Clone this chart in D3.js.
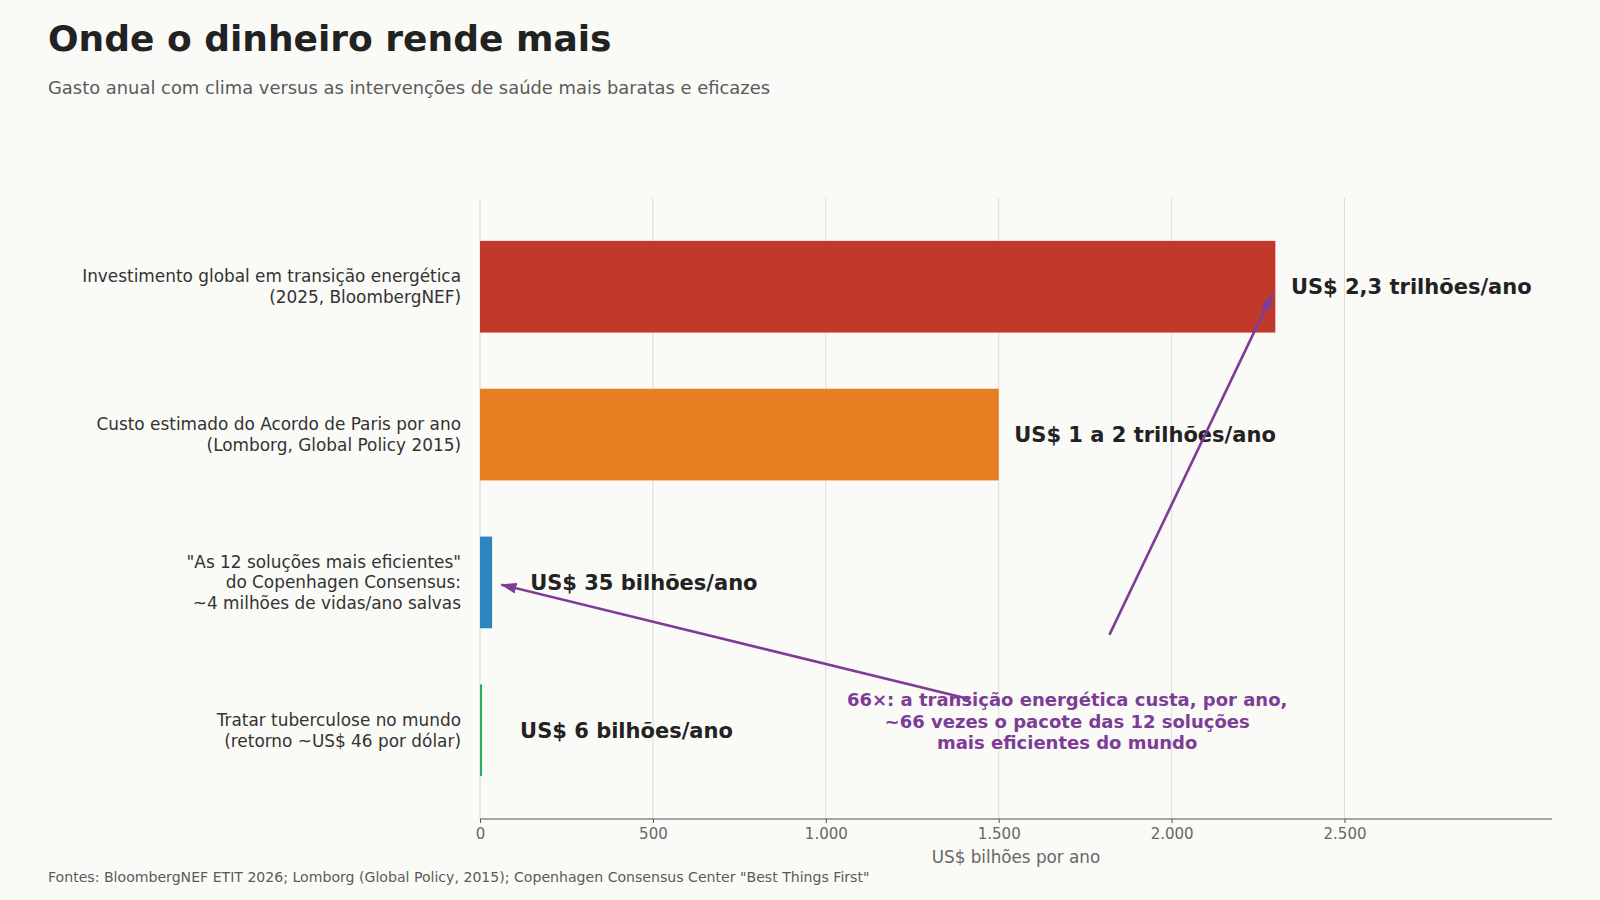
<!DOCTYPE html>
<html>
<head>
<meta charset="utf-8">
<script src="https://cdn.jsdelivr.net/npm/d3@7"></script>
<style>
  body { margin: 0; background: #fafaf7; }
  svg { display: block; font-family: "DejaVu Sans", sans-serif; }
</style>
</head>
<body>
<svg id="chart"></svg>
<script>
// Data
const categories = [
    ["Investimento global em transição energética", "(2025, BloombergNEF)"],
    ["Custo estimado do Acordo de Paris por ano", "(Lomborg, Global Policy 2015)"],
    ["\"As 12 soluções mais eficientes\"", "do Copenhagen Consensus:", "~4 milhões de vidas/ano salvas"],
    ["Tratar tuberculose no mundo", "(retorno ~US$ 46 por dólar)"]
];
const values = [2300, 1500, 35, 6];
const valueLabels = ["US$ 2,3 trilhões/ano", "US$ 1 a 2 trilhões/ano", "US$ 35 bilhões/ano", "US$ 6 bilhões/ano"];
const barColors = ["#c0392b", "#e67e22", "#2e86c1", "#27ae60"];
const xTicks = [0, 500, 1000, 1500, 2000, 2500];

// Annotation: text anchor and arrows, in data units (x = US$ bi, y = category index)
const noteLines = ["66×: a transição energética custa, por ano,", "~66 vezes o pacote das 12 soluções", "mais eficientes do mundo"];
const notePos = [1698, 2.94];
const arrows = [
    { from: [1417, 2.79], to: [62, 2.015] },
    { from: [1820, 2.355], to: [2290, 0.055] }
];

const width = 1600, height = 900;
const plot = { left: 480, right: 1552, top: 198, bottom: 819 };

const svg = d3.select("#chart").attr("width", width).attr("height", height);
svg.append("rect").attr("width", width).attr("height", height).attr("fill", "#fafaf7");

const locale = d3.formatLocale({ decimal: ",", thousands: ".", grouping: [3], currency: ["", ""] });
const fmt = locale.format(",d");

const x = d3.scaleLinear().domain([0, 3100]).range([plot.left, plot.right]);
const idx = d3.range(categories.length);
const y = d3.scaleBand().domain(idx).range([plot.top, plot.bottom]).paddingInner(0.38).paddingOuter(0.29);
const yIdx = d3.scaleLinear().domain([0, 3]).range([y(0) + y.bandwidth() / 2, y(3) + y.bandwidth() / 2]);

// Title block
svg.append("text").attr("x", 48).attr("y", 51)
    .attr("font-size", 36).attr("font-weight", "bold").attr("fill", "#222")
    .text("Onde o dinheiro rende mais");
svg.append("text").attr("x", 48).attr("y", 94)
    .attr("font-size", 17.9).attr("fill", "#5a5a5a")
    .text("Gasto anual com clima versus as intervenções de saúde mais baratas e eficazes");

// Grid
svg.append("g").selectAll("line").data(xTicks).join("line")
    .attr("x1", d => x(d)).attr("x2", d => x(d))
    .attr("y1", plot.top).attr("y2", plot.bottom)
    .attr("stroke", "#dcdcdc").attr("stroke-width", 1);

// X axis
const xAxis = svg.append("g")
    .attr("transform", `translate(0,${plot.bottom})`)
    .call(d3.axisBottom(x).tickValues(xTicks).tickFormat(fmt).tickSize(4).tickPadding(5));
xAxis.select(".domain").attr("stroke", "#555").attr("stroke-width", 1.2).attr("d", `M${plot.left},0H${plot.right}`);
xAxis.selectAll(".tick line").attr("stroke", "#555");
xAxis.selectAll(".tick text").attr("fill", "#666").attr("font-size", 15)
    .attr("font-family", "DejaVu Sans, sans-serif");

svg.append("text").attr("x", (plot.left + plot.right) / 2).attr("y", 863)
    .attr("text-anchor", "middle").attr("font-size", 16.8).attr("fill", "#666")
    .text("US$ bilhões por ano");

// Bars
svg.append("g").selectAll("rect").data(idx).join("rect")
    .attr("x", x(0))
    .attr("y", i => y(i))
    .attr("width", i => x(values[i]) - x(0))
    .attr("height", y.bandwidth())
    .attr("fill", i => barColors[i]);

// Category labels
const catText = svg.append("g").selectAll("text").data(idx).join("text")
    .attr("text-anchor", "end").attr("font-size", 16.9).attr("fill", "#333");
catText.each(function(i) {
    const lines = categories[i];
    const lh = 20.6;
    const c = y(i) + y.bandwidth() / 2;
    d3.select(this).selectAll("tspan").data(lines).join("tspan")
        .attr("x", plot.left - 19)
        .attr("y", (d, k) => c + (k - (lines.length - 1) / 2) * lh)
        .attr("dy", "0.35em")
        .text(d => d);
});

// Value labels
svg.append("g").selectAll("text").data(idx).join("text")
    .attr("x", i => x(values[i] + (values[i] < 100 ? 110 : 45)))
    .attr("y", i => y(i) + y.bandwidth() / 2)
    .attr("dy", "0.35em")
    .attr("font-size", 21).attr("font-weight", "bold").attr("fill", "#222")
    .text(i => valueLabels[i]);

// Arrows
const purple = "#7d3c98";
svg.append("defs").append("marker")
    .attr("id", "head").attr("markerUnits", "userSpaceOnUse")
    .attr("viewBox", "0 0 16 12").attr("refX", 15).attr("refY", 6)
    .attr("markerWidth", 16).attr("markerHeight", 12).attr("orient", "auto")
    .append("path").attr("d", "M0,0.5L16,6L0,11.5Z").attr("fill", purple);

svg.append("g").selectAll("line").data(arrows).join("line")
    .attr("x1", d => x(d.from[0])).attr("y1", d => yIdx(d.from[1]))
    .attr("x2", d => x(d.to[0])).attr("y2", d => yIdx(d.to[1]))
    .attr("stroke", purple).attr("stroke-width", 2.6)
    .attr("marker-end", "url(#head)");

// Note text
svg.append("g").selectAll("text").data(noteLines).join("text")
    .attr("x", x(notePos[0]))
    .attr("y", (d, k) => yIdx(notePos[1]) + (k - 1) * 21.5)
    .attr("dy", "0.35em")
    .attr("text-anchor", "middle").attr("font-size", 18).attr("font-weight", "bold").attr("fill", purple)
    .text(d => d);

// Source
svg.append("text").attr("x", 48).attr("y", 882)
    .attr("font-size", 14.1).attr("fill", "#5a5a5a")
    .text("Fontes: BloombergNEF ETIT 2026; Lomborg (Global Policy, 2015); Copenhagen Consensus Center \"Best Things First\"");
</script>
</body>
</html>
